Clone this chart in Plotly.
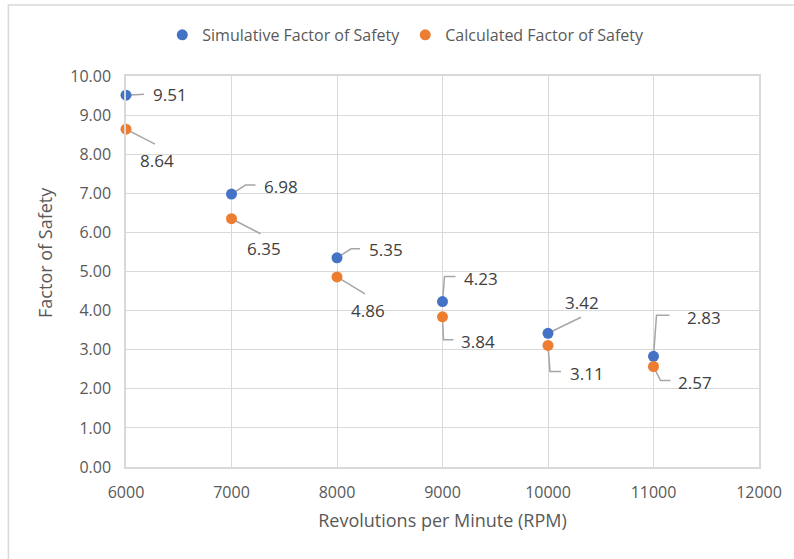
import plotly.graph_objects as go

# RPM sweep and factor-of-safety results
rpm = [6000, 7000, 8000, 9000, 10000, 11000]
simulative_fos = [9.51, 6.98, 5.35, 4.23, 3.42, 2.83]
calculated_fos = [8.64, 6.35, 4.86, 3.84, 3.11, 2.57]

BLUE = "#4472C4"
ORANGE = "#ED7D31"
GRID = "#D9D9D9"
TEXT = "#595959"
LABEL = "#404040"
LEADER = "#A6A6A6"
FONT = "Open Sans"

# Label placement per point: leader-line polyline (pixel offsets, screen y down)
# and the text anchor (left edge, vertical middle) in pixel offsets.
sim_leaders = [
    [(0, 0), (18, -1)],
    [(0, 0), (14, -9), (24, -9)],
    [(0, 0), (14, -9), (23, -9)],
    [(0, 0), (2, -25), (13, -25)],
    [(0, 0), (33, -16)],
    [(0, 0), (3, -41), (16, -41)],
]
sim_text_pos = [(25, -1), (30, -8), (30, -8), (19, -23), (15, -31), (31, -39)]

calc_leaders = [
    [(0, 0), (29, 15)],
    [(0, 0), (29, 15)],
    [(0, 0), (28, 17)],
    [(0, 0), (1, 23), (11, 23)],
    [(0, 0), (2, 26), (13, 26)],
    [(0, 0), (7, 14), (17, 14)],
]
calc_text_pos = [(12, 31), (13, 30), (12, 34), (16, 25), (20, 28), (22, 16)]

fig = go.Figure()
fig.add_trace(go.Scatter(
    x=rpm, y=simulative_fos, mode="markers", name="Simulative Factor of Safety",
    marker=dict(color=BLUE, size=11, line=dict(width=0)), cliponaxis=False,
))
fig.add_trace(go.Scatter(
    x=rpm, y=calculated_fos, mode="markers", name="Calculated Factor of Safety",
    marker=dict(color=ORANGE, size=11, line=dict(width=0)), cliponaxis=False,
))

shapes = []
annotations = []
for values, leaders, positions in [
    (simulative_fos, sim_leaders, sim_text_pos),
    (calculated_fos, calc_leaders, calc_text_pos),
]:
    for xv, yv, pts, (tx, ty) in zip(rpm, values, leaders, positions):
        path = "M" + " L".join(f"{px},{-py}" for px, py in pts)
        shapes.append(dict(
            type="path", xref="x", yref="y", xsizemode="pixel", ysizemode="pixel",
            xanchor=xv, yanchor=yv, path=path, layer="between",
            line=dict(color=LEADER, width=1.5),
        ))
        annotations.append(dict(
            x=xv, y=yv, xref="x", yref="y", text=f"{yv:.2f}", showarrow=False,
            xanchor="left", yanchor="middle", xshift=tx, yshift=-ty,
            font=dict(family=FONT, size=17, color=LABEL),
        ))

# y-axis title, placed slightly above the plot's vertical centre
annotations.append(dict(
    x=-0.128, y=0.55, xref="paper", yref="paper", text="Factor of Safety",
    textangle=-90, showarrow=False, xanchor="center", yanchor="middle",
    font=dict(family=FONT, size=18, color=TEXT),
))

# chart-area border
shapes.append(dict(
    type="rect", xref="paper", yref="paper", x0=-0.1858, x1=1.1, y0=-0.3, y1=1.1816,
    line=dict(color=GRID, width=1.5), layer="above",
))

fig.update_layout(
    width=794, height=559,
    margin=dict(l=126, r=33, t=76, b=92),
    paper_bgcolor="white", plot_bgcolor="white",
    font=dict(family=FONT, color=TEXT, size=16),
    showlegend=True,
    legend=dict(
        orientation="h", x=0.442, xanchor="center", y=1.105, yanchor="middle",
        font=dict(family=FONT, size=16, color=TEXT), itemwidth=30,
        bgcolor="rgba(0,0,0,0)",
    ),
    shapes=shapes,
    annotations=annotations,
)
fig.update_xaxes(
    range=[6000, 12000], dtick=1000, tick0=6000, tickformat="d",
    showgrid=True, gridcolor=GRID, gridwidth=1.3,
    showline=True, linecolor=GRID, linewidth=1.5, mirror=True,
    zeroline=False, ticks="", ticklabelstandoff=10,
    tickfont=dict(family=FONT, size=16, color=TEXT),
    title=dict(text="Revolutions per Minute (RPM)", standoff=12,
               font=dict(family=FONT, size=18, color=TEXT)),
)
fig.update_yaxes(
    range=[0, 10], dtick=1, tick0=0, tickformat=".2f",
    showgrid=True, gridcolor=GRID, gridwidth=1.3,
    showline=True, linecolor=GRID, linewidth=1.5, mirror=True,
    zeroline=False, ticks="", ticklabelstandoff=10,
    tickfont=dict(family=FONT, size=16, color=TEXT),
)

fig.write_html("out.html")
